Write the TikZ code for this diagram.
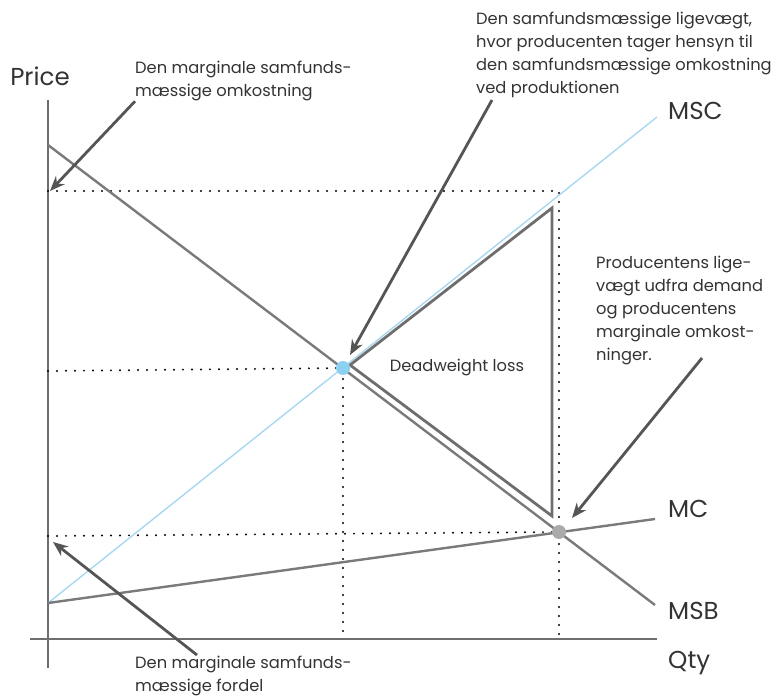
\documentclass[tikz,border=0pt]{standalone}
\usepackage{fontspec}
\setmainfont{Poppins}
\usetikzlibrary{arrows.meta}

\definecolor{axisgray}{HTML}{6E6E6E}
\definecolor{curvegray}{HTML}{7A7A7A}
\definecolor{mscblue}{HTML}{A8D8F0}
\definecolor{dotblue}{HTML}{8CD0F2}
\definecolor{dotgray}{HTML}{AAAAAA}
\definecolor{arrowgray}{HTML}{555555}
\definecolor{textgray}{HTML}{333333}

\tikzset{
  axis/.style={axisgray, line width=1.6pt},
  curve/.style={curvegray, line width=2.4pt},
  guide/.style={black, line width=2.2pt, dash pattern=on 0pt off 9pt, line cap=round},
  pointer/.style={arrowgray, line width=2.8pt, -{Stealth[length=15pt,width=12pt]}},
  note/.style={font=\fontsize{16.3}{23}\selectfont, align=left, anchor=north west, inner sep=0pt, text=textgray},
  curvelabel/.style={font=\fontsize{24.5}{24.5}\selectfont, text=textgray, anchor=west, inner sep=0pt},
}

\begin{document}
\begin{tikzpicture}[x=1pt,y=-1pt]
\useasboundingbox (0,0) rectangle (776,700);
% axes
\coordinate (ytop) at (48,100);
\coordinate (ybot) at (48,668);
\coordinate (xleft) at (30,639);
\coordinate (xright) at (657,639);
\draw[axis] (ytop) -- (ybot);
\draw[axis] (xleft) -- (xright);
\node[curvelabel, anchor=center] (price) at (40,76) {Price};
\node[curvelabel] (qty) at (668,663) {Qty};

% curve ends and intersections
\coordinate (msbstart) at (48,145);
\coordinate (msbend) at (655,605);
\coordinate (mscstart) at (48,603);
\coordinate (mscend) at (657,117);
\coordinate (mcend) at (655,519);
\coordinate (soceq) at (343,368);
\coordinate (prodeq) at (559,532);

% dotted guides
\coordinate (pmsc) at (48,191);
\coordinate (qmsc) at (559,191);
\coordinate (qbase) at (559,639);
\coordinate (psoc) at (48,371);
\coordinate (qsoc) at (343,639);
\coordinate (pmc) at (48,536);
\draw[guide] (pmsc) -- (qmsc) -- (qbase);
\draw[guide] (psoc) -- (soceq) -- (qsoc);
\draw[guide] (pmc) -- (prodeq);

% curves
\draw[mscblue, line width=1.4pt] (mscstart) -- (mscend);
\draw[curve] (mscstart) -- (mcend);
\draw[curve] (msbstart) -- (msbend);
\node[curvelabel] (msc) at (668,111) {MSC};
\node[curvelabel] (mc) at (668,509) {MC};
\node[curvelabel] (msb) at (668,611) {MSB};

% deadweight loss
\coordinate (dwlA) at (350,365);
\coordinate (dwlB) at (552,208);
\coordinate (dwlC) at (552,516);
\draw[axisgray, line width=2.8pt, line join=miter] (dwlA) -- (dwlB) -- (dwlC) -- cycle;
\node[note, anchor=center] (dwl) at (457,367) {Deadweight loss};

\fill[dotblue] (soceq) circle (7pt);
\fill[dotgray] (prodeq) circle (7pt);

% notes
\node[note] (mscnote) at (135,61) {Den marginale samfunds-\\mæssige omkostning};
\node[note] (socnote) at (476,12) {Den samfundsmæssige ligevægt,\\hvor producenten tager hensyn til\\den samfundsmæssige omkostning\\ved produktionen};
\node[note] (prodnote) at (596,256) {Producentens lige-\\vægt udfra demand\\og producentens\\marginale omkost-\\ninger.};
\node[note] (msbnote) at (135,656) {Den marginale samfunds-\\mæssige fordel};

\coordinate (socfrom) at (492,100);
\coordinate (prodfrom) at (702,358);
\coordinate (msbfrom) at (197,655);
\draw[pointer] (mscnote.south west) -- ([xshift=2pt]pmsc);
\draw[pointer] (socfrom) -- ([xshift=7pt,yshift=13pt]soceq);
\draw[pointer] (prodfrom) -- ([xshift=13pt,yshift=14pt]prodeq);
\draw[pointer] (msbfrom) -- ([xshift=5pt,yshift=-6pt]pmc);
\end{tikzpicture}
\end{document}
